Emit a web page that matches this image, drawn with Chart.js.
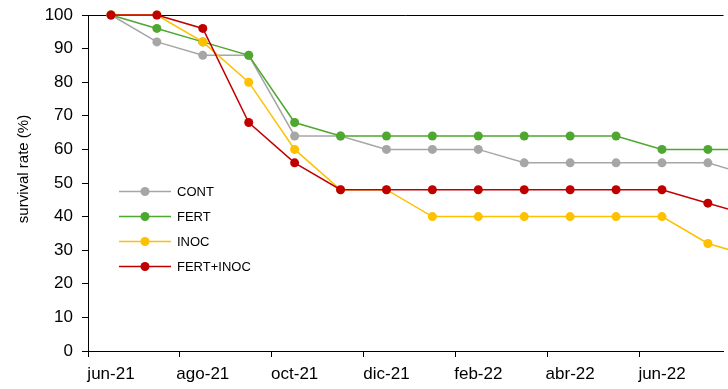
<!DOCTYPE html>
<html>
<head>
<meta charset="utf-8">
<script src="https://cdn.jsdelivr.net/npm/chart.js@4.4.1/dist/chart.umd.min.js"></script>
<style>
    html, body { margin: 0; padding: 0; background: #fff; overflow: hidden; }
    #wrap { width: 728px; height: 389px; position: relative; }
</style>
</head>
<body>
<div id="wrap"><canvas id="survivalChart"></canvas></div>
<script>
// monthly survey dates (one point per month)
const months = ['jun-21', 'jul-21', 'ago-21', 'sep-21', 'oct-21', 'nov-21', 'dic-21', 'ene-22',
    'feb-22', 'mar-22', 'abr-22', 'may-22', 'jun-22', 'jul-22', 'ago-22'];

// survival rate (%) per treatment
const cont = [100, 92, 88, 88, 64, 64, 60, 60, 60, 56, 56, 56, 56, 56, 52];
const fert = [100, 96, 92, 88, 68, 64, 64, 64, 64, 64, 64, 64, 60, 60, 60];
const inoc = [100, 100, 92, 80, 60, 48, 48, 40, 40, 40, 40, 40, 40, 32, 28];
const fertInoc = [100, 100, 96, 68, 56, 48, 48, 48, 48, 48, 48, 48, 48, 44, 40];

const seriesNames = ['CONT', 'FERT', 'INOC', 'FERT+INOC'];
const seriesColors = ['#A6A6A6', '#4EA72E', '#FFC000', '#C00000'];

// x ticks sit on month boundaries, every two months
const xTickMonths = [0, 2, 4, 6, 8, 10, 12];
const yTicks = [0, 10, 20, 30, 40, 50, 60, 70, 80, 90, 100];

const FONT = "'Liberation Sans', Arial, sans-serif";
Chart.defaults.font.family = FONT;
Chart.defaults.color = '#000';

function toPoints(values) {
    return values.map((v, i) => ({ x: i, y: v }));
}

const allSeries = [cont, fert, inoc, fertInoc];
const datasets = allSeries.map((values, i) => ({
    label: seriesNames[i],
    data: toPoints(values),
    borderColor: seriesColors[i],
    backgroundColor: seriesColors[i],
    pointBackgroundColor: seriesColors[i],
    pointBorderColor: seriesColors[i],
    borderWidth: 1.5,
    pointRadius: 4.5,
    pointBorderWidth: 0,
    tension: 0,
    clip: false,
    order: allSeries.length - i,
}));

// frame line on top, axis title and the inset legend
const extras = {
    id: 'extras',
    beforeDatasetsDraw(chart) {
        const { ctx, chartArea } = chart;
        ctx.save();
        ctx.strokeStyle = '#000';
        ctx.lineWidth = 1;
        ctx.beginPath();
        ctx.moveTo(chartArea.left, Math.round(chartArea.top) + 0.5);
        ctx.lineTo(chartArea.right, Math.round(chartArea.top) + 0.5);
        ctx.stroke();

        ctx.translate(24, 169);
        ctx.rotate(-Math.PI / 2);
        ctx.font = '15px ' + FONT;
        ctx.fillStyle = '#000';
        ctx.textAlign = 'center';
        ctx.textBaseline = 'middle';
        ctx.fillText('survival rate (%)', 0, 0);
        ctx.restore();
    },
    afterDraw(chart) {
        const { ctx } = chart;
        ctx.save();
        ctx.font = '13px ' + FONT;
        ctx.textBaseline = 'middle';
        ctx.textAlign = 'left';
        chart.data.datasets.forEach((ds, i) => {
            const y = 191.5 + i * 25;
            ctx.strokeStyle = ds.borderColor;
            ctx.lineWidth = 1.5;
            ctx.beginPath();
            ctx.moveTo(119, y);
            ctx.lineTo(171, y);
            ctx.stroke();
            ctx.fillStyle = ds.borderColor;
            ctx.beginPath();
            ctx.arc(145, y, 4.5, 0, Math.PI * 2);
            ctx.fill();
            ctx.fillStyle = '#000';
            ctx.fillText(ds.label, 177, y + 0.5);
        });
        ctx.restore();
    },
};

new Chart(document.getElementById('survivalChart'), {
    type: 'line',
    data: { datasets: datasets },
    plugins: [extras],
    options: {
        responsive: true,
        maintainAspectRatio: false,
        animation: false,
        layout: { padding: { top: 15, right: 0, bottom: 0, left: 0 } },
        plugins: {
            legend: { display: false },
            tooltip: { enabled: false },
        },
        scales: {
            x: {
                type: 'linear',
                min: -0.5,
                max: 13.34,
                afterBuildTicks: (scale) => {
                    scale.ticks = xTickMonths.map((m) => ({ value: m - 0.5 }));
                },
                afterFit: (scale) => {
                    scale.height = 38;
                },
                grid: {
                    drawOnChartArea: false,
                    color: '#000',
                    tickLength: 6,
                },
                border: { color: '#000', width: 1 },
                ticks: {
                    autoSkip: false,
                    maxRotation: 0,
                    labelOffset: 23,
                    padding: 7,
                    font: { size: 17 },
                    callback: (value) => months[Math.round(value + 0.5)],
                },
            },
            y: {
                min: 0,
                max: 100,
                afterBuildTicks: (scale) => {
                    scale.ticks = yTicks.map((v) => ({ value: v }));
                },
                afterFit: (scale) => {
                    scale.width = 88;
                    scale.paddingTop = 0;
                    scale.paddingBottom = 0;
                },
                grid: {
                    drawOnChartArea: false,
                    color: '#000',
                    tickLength: 6,
                },
                border: { color: '#000', width: 1 },
                ticks: {
                    padding: 9,
                    font: { size: 17 },
                },
            },
        },
    },
});
</script>
</body>
</html>
